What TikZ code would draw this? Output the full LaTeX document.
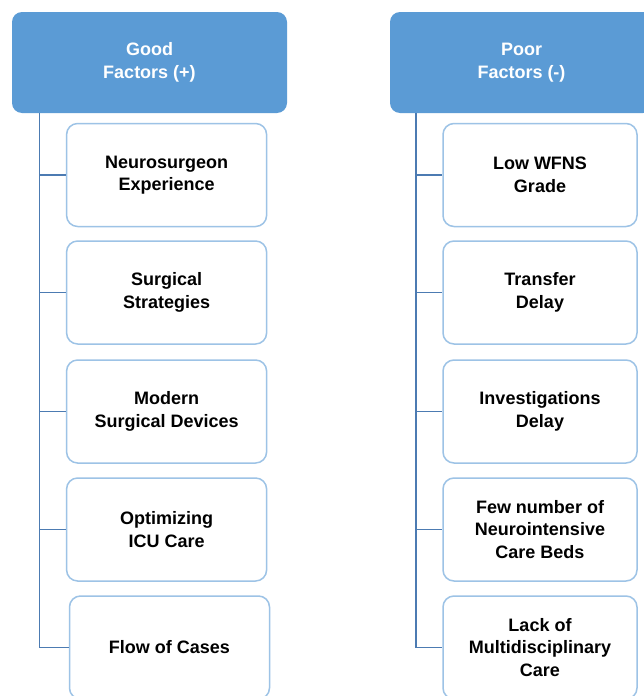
\documentclass[tikz,border=0pt]{standalone}
\usepackage{fontspec}
\setmainfont{Liberation Sans}
\definecolor{hdrblue}{HTML}{5B9BD5}
\definecolor{boxborder}{HTML}{9DC3E6}
\definecolor{connblue}{HTML}{4C7BB2}
\begin{document}
\begin{tikzpicture}[x=1pt,y=-1pt,
  hdrbox/.style={rectangle, rounded corners=10pt, fill=hdrblue, draw=none, text=white,
    font=\bfseries\fontsize{18}{23}\selectfont, align=center, inner sep=0pt,
    minimum height=101pt},
  itembox/.style={rectangle, rounded corners=11pt, draw=boxborder, line width=1.5pt, fill=white,
    font=\bfseries\fontsize{18}{22.5}\selectfont, align=center, inner sep=0pt,
    minimum height=103pt},
  connline/.style={draw=connblue, line width=1.6pt}]
\useasboundingbox (0,0) rectangle (644,696);
\clip (0,0) rectangle (644,696);
\fill[white] (0,0) rectangle (644,696);

% headers
\node[hdrbox, minimum width=275pt] (hL) at (149.5,62.5) {Good\\Factors (+)};
\node[hdrbox, minimum width=263pt] (hR) at (521.5,62.5) {Poor\\Factors (-)};

% left items
\node[itembox, minimum width=200pt] (l1) at (166.6,175) {Neurosurgeon\\Experience};
\node[itembox, minimum width=200pt] (l2) at (166.6,292.5) {Surgical\\Strategies};
\node[itembox, minimum width=200pt] (l3) at (166.6,411.5) {Modern\\Surgical Devices};
\node[itembox, minimum width=200pt] (l4) at (166.6,529.5) {Optimizing\\ICU Care};
\node[itembox, minimum width=200pt] (l5) at (169.5,647.5) {Flow of Cases};

% right items
\node[itembox, minimum width=194pt] (r1) at (540,175) {Low WFNS\\Grade};
\node[itembox, minimum width=194pt] (r2) at (540,292.5) {Transfer\\Delay};
\node[itembox, minimum width=194pt] (r3) at (540,411.5) {Investigations\\Delay};
\node[itembox, minimum width=194pt] (r4) at (540,529.5) {Few number of\\Neurointensive\\Care Beds};
\node[itembox, minimum width=194pt] (r5) at (540,647.5) {Lack of\\Multidisciplinary\\Care};

% connectors
\coordinate (tL) at ([xshift=27.5pt]hL.south west);
\coordinate (tR) at ([xshift=26pt]hR.south west);
\draw[connline] (tL) |- (l5.west);
\draw[connline] (tR) |- (r5.west);
\foreach \n in {l1,l2,l3,l4} \draw[connline] (tL |- \n.west) -- (\n.west);
\foreach \n in {r1,r2,r3,r4} \draw[connline] (tR |- \n.west) -- (\n.west);
\end{tikzpicture}
\end{document}
